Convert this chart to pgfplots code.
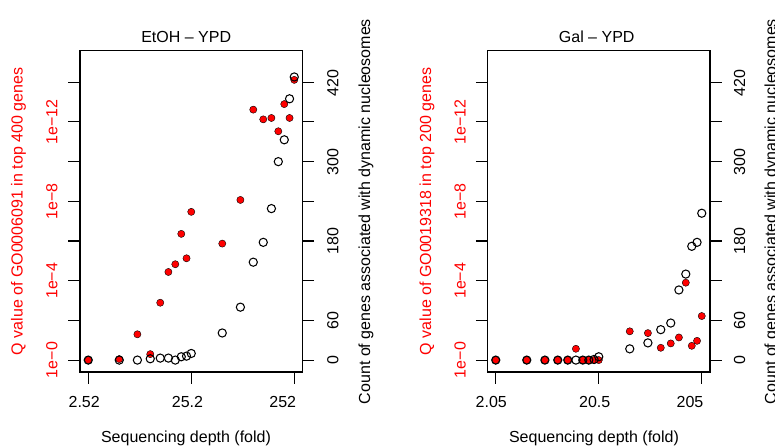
\documentclass[border=0pt]{standalone}
\usepackage{fontspec}
\setmainfont{Liberation Sans}
\usepackage{pgfplots}
\pgfplotsset{compat=1.18}

% R base-graphics look: full box, outward ticks, labels set by hand
\pgfplotsset{
  panel/.style={
    scale only axis, width=222.5bp, height=321.5bp, anchor=south west,
    xminorticks=false, yminorticks=false,
    axis line style={line width=1.1bp},
    every tick/.style={black, line width=1.1bp},
    tick align=outside, major tick length=11.7bp,
    xticklabels={}, yticklabels={}, clip=false,
  },
  qaxis/.style={panel, ymin=-0.6, ymax=15.6, ytick={0,2,4,6,8,10,12,14}, ytick pos=left, xtick pos=lower},
  caxis/.style={panel, ymin=-18, ymax=468, ytick={0,60,120,180,240,300,360,420}, ytick pos=right, xtick=\empty},
  qdots/.style={only marks, mark=*, mark size=3.6bp, mark options={draw=none, fill=red}},
  cdots/.style={black, only marks, mark=o, mark size=4.1bp, mark options={line width=1.05bp}},
}

\begin{document}
\begin{tikzpicture}[font=\fontsize{16bp}{19bp}\selectfont]
\clip (0bp,0bp) rectangle (775bp,446bp);

% ---- EtOH - YPD ----
\begin{semilogxaxis}[qaxis, at={(80bp,74bp)}, xmin=2.096, xmax=302.98, xtick={2.52,25.2,252}]
\addplot[qdots] coordinates {
  (2.52,0)(5.04,0.05)(7.56,1.30)(10.08,0.30)(12.6,2.89)(15.12,4.44)
  (17.64,4.83)(20.16,6.36)(22.68,5.13)(25.2,7.47)(50.4,5.87)(75.6,8.07)
  (100.8,12.62)(126,12.13)(151.2,12.2)(176.4,11.53)(201.6,12.9)(226.8,12.2)(252,14.12)
};
\end{semilogxaxis}
\begin{semilogxaxis}[caxis, at={(80bp,74bp)}, xmin=2.096, xmax=302.98]
\addplot[cdots] coordinates {
  (2.52,0)(5.04,0)(7.56,0)(10.08,2)(12.6,3)(15.12,3)
  (17.64,0)(20.16,5)(22.68,6)(25.2,10)(50.4,41)(75.6,80)
  (100.8,148)(126,178)(151.2,229)(176.4,300)(201.6,333)(226.8,395)(252,428)
};
\end{semilogxaxis}

% ---- Gal - YPD ----
\begin{semilogxaxis}[qaxis, at={(487.5bp,74bp)}, xmin=1.7051, xmax=246.47, xtick={2.05,20.5,205}]
\addplot[qdots] coordinates {
  (2.05,0)(4.1,0)(6.15,0)(8.2,0)(10.25,0)(12.3,0.57)
  (14.35,0)(16.4,0)(18.45,0)(20.5,0)(41,1.45)(61.5,1.36)
  (82,0.62)(102.5,0.84)(123,1.14)(143.5,3.9)(164,0.72)(184.5,0.97)(205,2.22)
};
\end{semilogxaxis}
\begin{semilogxaxis}[caxis, at={(487.5bp,74bp)}, xmin=1.7051, xmax=246.47]
\addplot[cdots] coordinates {
  (2.05,0)(4.1,0)(6.15,0)(8.2,0)(10.25,0)(12.3,0)
  (14.35,0)(16.4,0)(18.45,1)(20.5,5)(41,17)(61.5,26)
  (82,46)(102.5,56)(123,106)(143.5,130)(164,172)(184.5,178)(205,222)
};
\end{semilogxaxis}

% titles
\node[anchor=base] at (186.2bp,403.7bp) {EtOH – YPD};
\node[anchor=base] at (596.7bp,403.7bp) {Gal – YPD};

% x tick labels and x labels
\node[anchor=base] at (84.2bp,38.3bp) {2.52};
\node[anchor=base] at (187.5bp,38.3bp) {25.2};
\node[anchor=base] at (282.7bp,38.3bp) {252};
\node[anchor=base] at (491.3bp,38.3bp) {2.05};
\node[anchor=base] at (594.7bp,38.3bp) {20.5};
\node[anchor=base] at (690bp,38.3bp) {205};
\node[anchor=base] at (186bp,3.4bp) {Sequencing depth (fold)};
\node[anchor=base] at (594bp,3.4bp) {Sequencing depth (fold)};

% left (Q value) tick labels
\foreach \lab/\yy in {1e−0/86, 1e−4/165.2, 1e−8/244.5, 1e−12/323.7} {
  \node[anchor=base, rotate=90, red] at (57.3bp,\yy bp) {\lab};
  \node[anchor=base, rotate=90, red] at (465.5bp,\yy bp) {\lab};
}
% right (count) tick labels
\foreach \lab/\yy in {0/86, 60/125.6, 180/204.9, 300/284.1, 420/363.3} {
  \node[anchor=base, rotate=90] at (338.3bp,\yy bp) {\lab};
  \node[anchor=base, rotate=90] at (745bp,\yy bp) {\lab};
}

% axis titles
\node[anchor=base, rotate=90, red] at (22.5bp,234.5bp) {Q value of GO0006091 in top 400 genes};
\node[anchor=base, rotate=90, red] at (431bp,234.5bp) {Q value of GO0019318 in top 200 genes};
\node[anchor=base, rotate=90] at (370bp,234.5bp) {Count of genes associated with dynamic nucleosomes};
\node[anchor=base, rotate=90] at (776bp,234.5bp) {Count of genes associated with dynamic nucleosomes};
\end{tikzpicture}
\end{document}
